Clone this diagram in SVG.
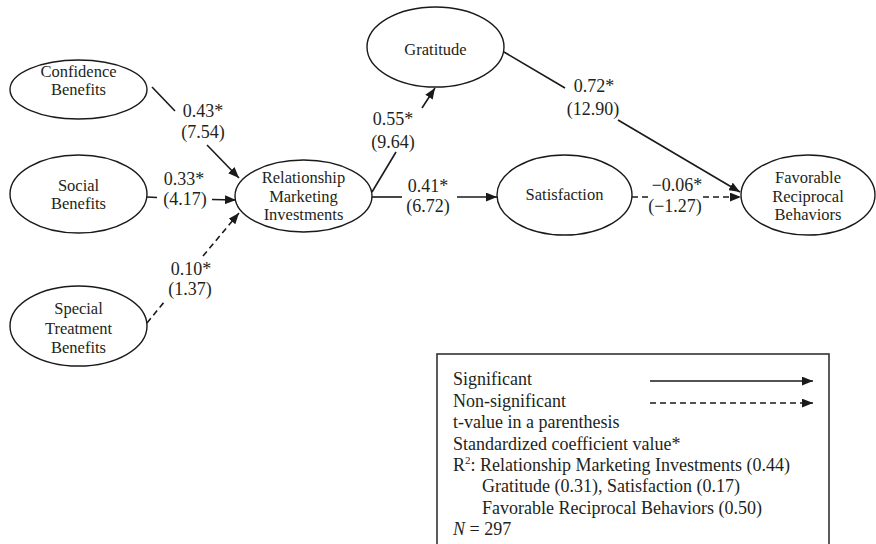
<svg xmlns="http://www.w3.org/2000/svg" width="876" height="544" viewBox="0 0 876 544">
<defs>
<marker id="ah" viewBox="0 0 10 8" refX="10" refY="4" markerWidth="11" markerHeight="9" markerUnits="userSpaceOnUse" orient="auto"><path d="M0,0 L10,4 L0,8 z" fill="#1a1a1a"/></marker>
<style>
text{font-family:"Liberation Serif","Times New Roman",serif;fill:#231f20;}
.n{font-size:16.5px;text-anchor:middle;}
.e{font-size:18px;text-anchor:middle;}
.l{font-size:18px;}
ellipse{fill:#fff;stroke:#1a1a1a;stroke-width:1.4;}
.c line{stroke:#1a1a1a;stroke-width:1.6;fill:none;}
.c line.d{stroke-dasharray:6 4;}
.box{fill:none;stroke:#333;stroke-width:1.6;}
</style>
</defs>
<rect width="876" height="544" fill="#fff"/>
<g id="confidence"><ellipse cx="78.5" cy="89.5" rx="68.5" ry="29.5"/><text class="n" x="78.5" y="77">Confidence</text><text class="n" x="78.5" y="95">Benefits</text></g>
<g id="social"><ellipse cx="78.5" cy="194" rx="68.5" ry="39"/><text class="n" x="78.5" y="191">Social</text><text class="n" x="78.5" y="209">Benefits</text></g>
<g id="special"><ellipse cx="78.5" cy="326" rx="68.5" ry="40"/><text class="n" x="78.5" y="314">Special</text><text class="n" x="78.5" y="334">Treatment</text><text class="n" x="78.5" y="353">Benefits</text></g>
<g id="rmi"><ellipse cx="303.5" cy="196" rx="68.5" ry="36"/><text class="n" x="303.5" y="183">Relationship</text><text class="n" x="303.5" y="202">Marketing</text><text class="n" x="303.5" y="220">Investments</text></g>
<g id="gratitude"><ellipse cx="435.5" cy="47" rx="68.5" ry="40"/><text class="n" x="435.5" y="55">Gratitude</text></g>
<g id="satisfaction"><ellipse cx="564.5" cy="195" rx="67.5" ry="40"/><text class="n" x="564.5" y="200">Satisfaction</text></g>
<g id="favorable"><ellipse cx="808" cy="195" rx="67" ry="40"/><text class="n" x="808" y="183">Favorable</text><text class="n" x="808" y="202">Reciprocal</text><text class="n" x="808" y="220">Behaviors</text></g>
<g id="connectors" class="c">
<line x1="152" y1="87" x2="175" y2="111"/><line x1="207" y1="145" x2="239" y2="178" marker-end="url(#ah)"/>
<line x1="147" y1="197" x2="157" y2="197.5"/><line x1="212" y1="199.5" x2="236" y2="200" marker-end="url(#ah)"/>
<line class="d" x1="147" y1="323" x2="165" y2="301"/><line class="d" x1="203" y1="256" x2="239" y2="213" marker-end="url(#ah)"/>
<line x1="372" y1="192" x2="396" y2="152"/><line x1="422" y1="108" x2="435" y2="88" marker-end="url(#ah)"/>
<line x1="372" y1="197" x2="402" y2="197"/><line x1="457" y1="197" x2="497" y2="197" marker-end="url(#ah)"/>
<line x1="504" y1="52" x2="565" y2="88"/><line x1="618" y1="120" x2="740" y2="192" marker-end="url(#ah)"/>
<line class="d" x1="632" y1="197" x2="650" y2="197"/><line class="d" x1="703" y1="197" x2="741" y2="197" marker-end="url(#ah)"/>
</g>
<g id="edge-labels">
<text class="e" x="203" y="117">0.43*</text><text class="e" x="203" y="138">(7.54)</text>
<text class="e" x="184" y="185">0.33*</text><text class="e" x="185" y="205">(4.17)</text>
<text class="e" x="191" y="275">0.10*</text><text class="e" x="190" y="295">(1.37)</text>
<text class="e" x="393" y="125">0.55*</text><text class="e" x="393" y="148">(9.64)</text>
<text class="e" x="428" y="192">0.41*</text><text class="e" x="428" y="212">(6.72)</text>
<text class="e" x="594" y="92">0.72*</text><text class="e" x="593" y="115">(12.90)</text>
<text class="e" x="677" y="191">−0.06*</text><text class="e" x="675" y="212">(−1.27)</text>
</g>
<g id="legend">
<rect class="box" x="437" y="354" width="392" height="200"/>
<g class="c"><line x1="650" y1="381" x2="813" y2="381" marker-end="url(#ah)"/><line class="d" x1="650" y1="403" x2="813" y2="403" marker-end="url(#ah)"/></g>
<text class="l" x="453" y="385">Significant</text>
<text class="l" x="453" y="406.5">Non-significant</text>
<text class="l" x="453" y="428">t-value in a parenthesis</text>
<text class="l" x="453" y="449.5">Standardized coefficient value*</text>
<text class="l" x="453" y="471">R<tspan font-size="11" dy="-7">2</tspan><tspan dy="7">: Relationship Marketing Investments (0.44)</tspan></text>
<text class="l" x="482" y="492">Gratitude (0.31), Satisfaction (0.17)</text>
<text class="l" x="482" y="513.5">Favorable Reciprocal Behaviors (0.50)</text>
<text class="l" x="453" y="535"><tspan font-style="italic">N</tspan> = 297</text>
</g>
</svg>
